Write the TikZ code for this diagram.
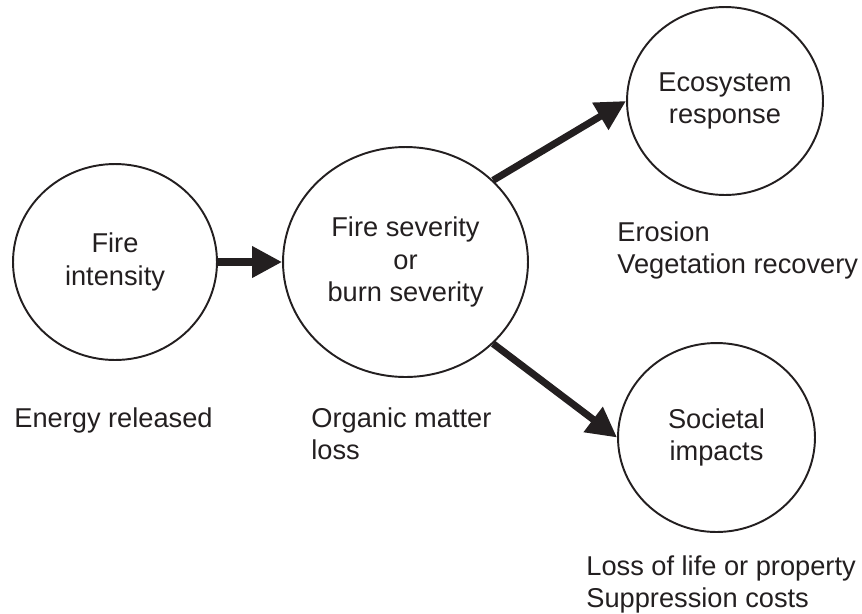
\documentclass[tikz,border=0pt]{standalone}
\usepackage{fontspec}
\setmainfont{Liberation Sans}
\usepackage{tikz}
\usetikzlibrary{arrows.meta, shapes.geometric}
\definecolor{fsInk}{RGB}{35, 31, 32}

\begin{document}
\begin{tikzpicture}[x=0.02cm, y=-0.02cm, every node/.style={font=\fontsize{15.5}{18.4}\selectfont, text=fsInk},
    stage/.style={ellipse, draw=fsInk, line width=1.1pt, inner sep=0pt, align=center},
    note/.style={anchor=north west, inner sep=0pt, align=left},
    flow/.style={line width=4pt, fsInk, -{Triangle[length=0.6cm, width=0.6cm]}}]
                    \useasboundingbox (0,0) rectangle (862,613);
                    \node[stage, minimum width=4.08cm, minimum height=3.92cm] (intensity) at (115,262) {Fire\\intensity};
                    \node[stage, minimum width=4.9cm, minimum height=4.6cm] (severity) at (405.5,262) {Fire severity\\or\\burn severity};
                    \node[stage, minimum width=3.92cm, minimum height=3.76cm] (ecosystem) at (725,101) {Ecosystem\\response};
                    \node[stage, minimum width=3.94cm, minimum height=3.78cm] (societal) at (716.5,437.5) {Societal\\impacts};
                    \draw[flow] (intensity.east) -- (severity.west);
                    \draw[flow] (severity.43) -- (ecosystem.west);
                    \draw[flow] (severity.-43) -- (societal.west);
                    \node[note] (energy) at (14,407) {Energy released};
                    \node[note] (organic) at (311,407) {Organic matter\\loss};
                    \node[note] (erosion) at (617,221) {Erosion\\Vegetation recovery};
                    \node[note] (losses) at (586,555) {Loss of life or property\\Suppression costs};
                \end{tikzpicture}
\end{document}
